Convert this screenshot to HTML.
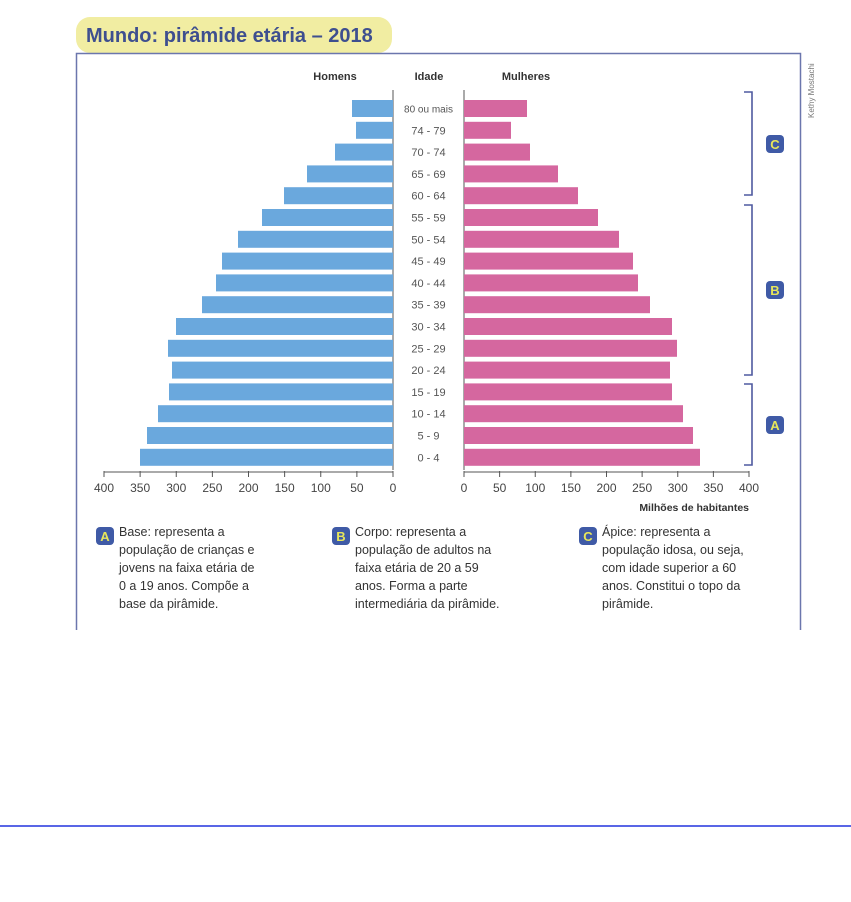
<!DOCTYPE html>
<html><head><meta charset="utf-8"><style>
body{margin:0;background:#fff;width:851px;height:897px;overflow:hidden;font-family:"Liberation Sans",sans-serif}
</style></head><body>
<svg width="851" height="897" xmlns="http://www.w3.org/2000/svg" font-family="Liberation Sans, sans-serif">
<rect x="76" y="17" width="316" height="36" rx="14" fill="#f1eda2"/>
<text x="86" y="42" font-size="20" font-weight="bold" fill="#3e4f8f">Mundo: pirâmide etária – 2018</text>
<path d="M76.5 630 V53.5 H800.5 V630" fill="none" stroke="#6b76ad" stroke-width="1.5"/>
<text x="814" y="118" font-size="8" fill="#777" transform="rotate(-90 814 118)">Kethy Mostachi</text>
<g font-size="11" font-weight="bold" fill="#333" text-anchor="middle">
<text x="335" y="80">Homens</text><text x="429" y="80">Idade</text><text x="526" y="80">Mulheres</text></g>
<line x1="393" y1="90" x2="393" y2="470" stroke="#555"/>
<line x1="464" y1="90" x2="464" y2="470" stroke="#555"/>
<g id="bars"></g>
<g stroke="#555" fill="none"><path d="M104 472 H393 M464 472 H749"/></g>
<g id="ticks"></g>
<text x="749" y="511" font-size="10.5" font-weight="bold" fill="#333" text-anchor="end">Milhões de habitantes</text>
<g stroke="#4f5aa0" stroke-width="1.6" fill="none">
<path d="M744 92 H752 V195 H744"/><path d="M744 205 H752 V375 H744"/><path d="M744 384 H752 V465 H744"/></g>
<g id="badges"></g>
<g font-size="12.5" fill="#333">
<text x="119" y="536">Base: representa a</text><text x="119" y="554">população de crianças e</text><text x="119" y="572">jovens na faixa etária de</text><text x="119" y="590">0 a 19 anos. Compõe a</text><text x="119" y="608">base da pirâmide.</text>
<text x="355" y="536">Corpo: representa a</text><text x="355" y="554">população de adultos na</text><text x="355" y="572">faixa etária de 20 a 59</text><text x="355" y="590">anos. Forma a parte</text><text x="355" y="608">intermediária da pirâmide.</text>
<text x="602" y="536">Ápice: representa a</text><text x="602" y="554">população idosa, ou seja,</text><text x="602" y="572">com idade superior a 60</text><text x="602" y="590">anos. Constitui o topo da</text><text x="602" y="608">pirâmide.</text>
</g>
<line x1="0" y1="826" x2="851" y2="826" stroke="#2233dd" stroke-width="1.5"/>
</svg>
<script>
const ns="http://www.w3.org/2000/svg";
function el(p,t,a,txt){const e=document.createElementNS(ns,t);for(const k in a)e.setAttribute(k,a[k]);if(txt!==undefined)e.textContent=String(txt);p.appendChild(e);return e;}
const L=[352,356,335,307,284,262,238,222,216,202,176,168,172,169,158,147,140];
const R=[527,511,530,558,578,598,619,633,638,650,672,677,670,672,683,693,700];
const lab=["80 ou mais","74 - 79","70 - 74","65 - 69","60 - 64","55 - 59","50 - 54","45 - 49","40 - 44","35 - 39","30 - 34","25 - 29","20 - 24","15 - 19","10 - 14","5 - 9","0 - 4"];
const g=document.getElementById("bars");
for(let i=0;i<17;i++){const y=100+i*21.8;
el(g,"rect",{x:L[i],y:y,width:393-L[i],height:17,fill:"#6aa8dd"});
el(g,"rect",{x:464,y:y,width:R[i]-464,height:17,fill:"#d5679f"});
el(g,"text",{x:428.5,y:y+12.5,"font-size":i==0?10:11,fill:"#555","text-anchor":"middle"},lab[i]);}
const t=document.getElementById("ticks");
for(let v=0;v<=400;v+=50){
let x=393-v*0.7225;el(t,"line",{x1:x,y1:471,x2:x,y2:477,stroke:"#555"});
el(t,"text",{x:x,y:492,"font-size":12,fill:"#444","text-anchor":"middle"},v);
x=464+v*0.7125;el(t,"line",{x1:x,y1:471,x2:x,y2:477,stroke:"#555"});
el(t,"text",{x:x,y:492,"font-size":12,fill:"#444","text-anchor":"middle"},v);}
const b=document.getElementById("badges");
function badge(x,y,c){el(b,"rect",{x:x,y:y,width:18,height:18,rx:4,fill:"#3f5aa6"});
el(b,"text",{x:x+9,y:y+14,"font-size":13,"font-weight":"bold",fill:"#e8e65a","text-anchor":"middle"},c);}
badge(766,135,"C");badge(766,281,"B");badge(766,416,"A");
badge(96,527,"A");badge(332,527,"B");badge(579,527,"C");
</script>
</body></html>
